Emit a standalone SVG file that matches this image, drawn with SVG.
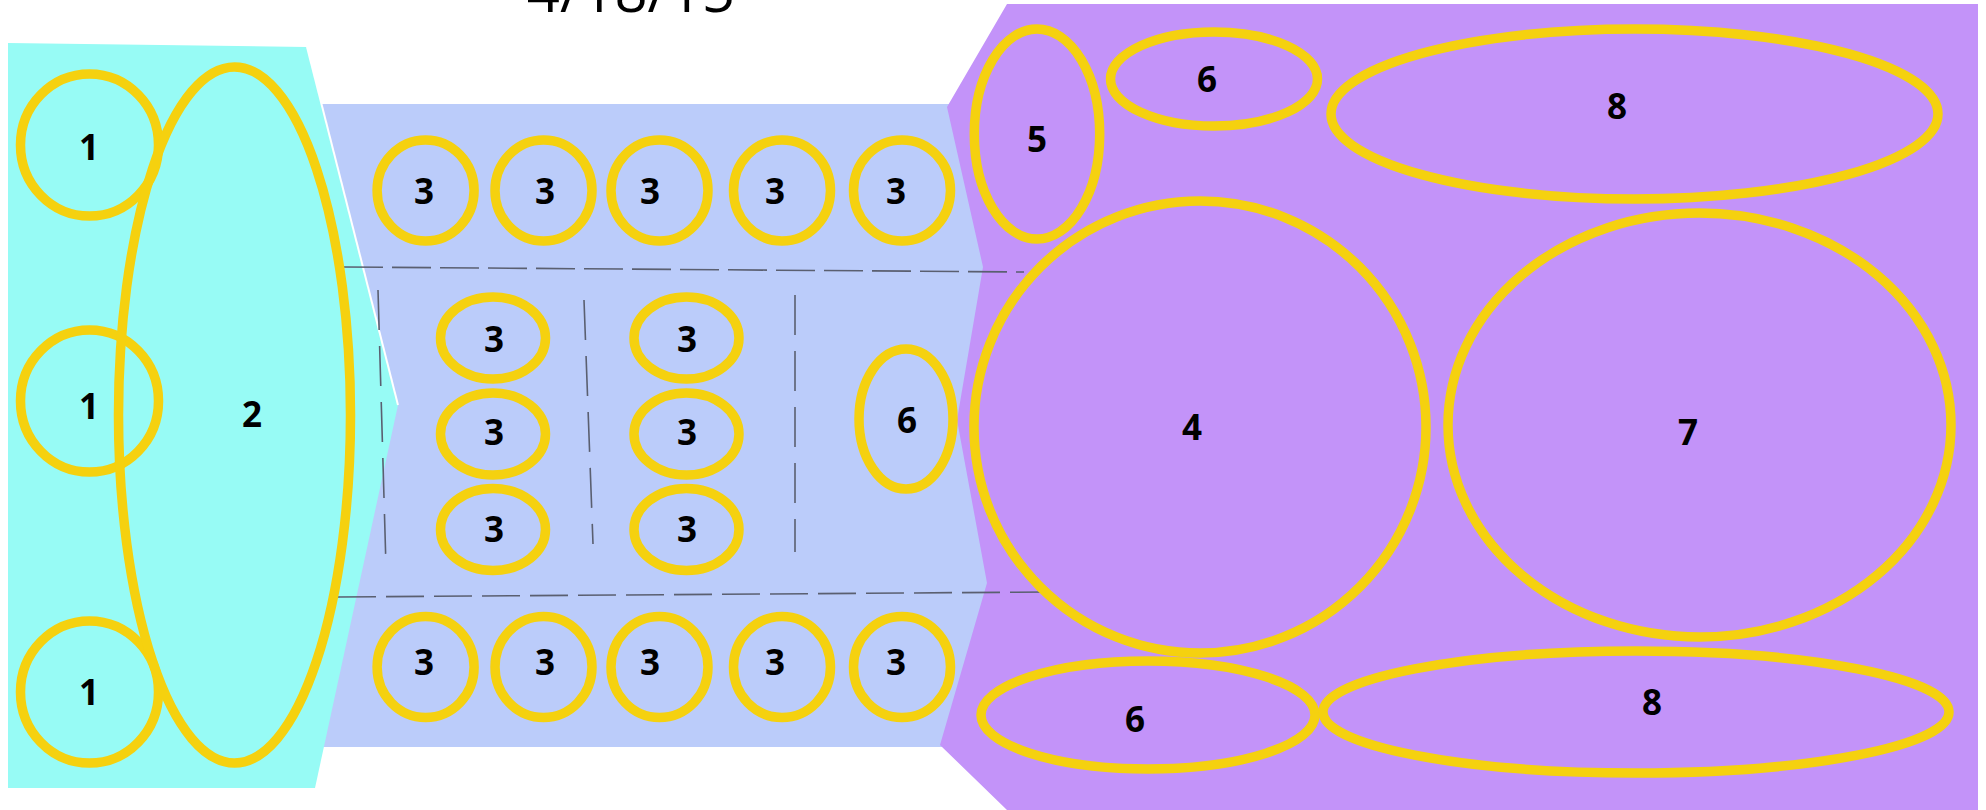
<svg xmlns="http://www.w3.org/2000/svg" width="1986" height="810" viewBox="0 0 1986 810">
<style>
.n{fill:none;stroke:#F5D10F;stroke-width:9.5}
.t{font-family:"Open Sans","Liberation Sans",sans-serif;font-weight:700;font-size:35px;fill:#000;text-anchor:middle}
.d{fill:none;stroke:#5a5f70;stroke-width:1.6}
</style>
<rect width="1986" height="810" fill="#fff"/>
<g id="regions">
<polygon points="322,104 995,104 995,747 322,747" fill="#BBCCFA"/>
<polygon points="1007,4 1978,4 1978,810 1007,810 940,745 987,583 957,420 983,267 947,107" fill="#C393F9"/>
<polygon points="8,43 307,47 398,405 315,788 8,788" fill="#97FBF5"/>
<line x1="307" y1="47" x2="398" y2="405" stroke="#fff" stroke-width="2"/>
</g>
<text x="631" y="12" font-family="'Open Sans','Liberation Sans',sans-serif" font-size="58" text-anchor="middle" fill="#000">4/18/15</text>
<g id="connectors">
<line class="d" x1="344" y1="267" x2="1024" y2="272" stroke-dasharray="39 9"/>
<line class="d" x1="338" y1="597" x2="1047" y2="592" stroke-dasharray="38 10"/>
<line class="d" x1="378" y1="290" x2="386" y2="567" stroke-dasharray="40 16"/>
<line class="d" x1="584" y1="300" x2="593" y2="544" stroke-dasharray="40 16"/>
<line class="d" x1="795" y1="295" x2="795" y2="552" stroke-dasharray="40 16"/>
</g>
<g id="n1a"><ellipse class="n" cx="89.5" cy="145" rx="69" ry="71"/><text class="t" x="89" y="160">1</text></g>
<g id="n1b"><ellipse class="n" cx="89.5" cy="401" rx="69" ry="71"/><text class="t" x="89" y="419">1</text></g>
<g id="n1c"><ellipse class="n" cx="89.5" cy="692" rx="69" ry="71"/><text class="t" x="89" y="705">1</text></g>
<g id="n2"><ellipse class="n" cx="234.5" cy="415" rx="116" ry="348"/><text class="t" x="252" y="427">2</text></g>
<g id="n3t1"><ellipse class="n" cx="425.6" cy="190.5" rx="48.5" ry="50.5"/><text class="t" x="424" y="204">3</text></g>
<g id="n3t2"><ellipse class="n" cx="543.5" cy="190.5" rx="48.5" ry="50.5"/><text class="t" x="545" y="204">3</text></g>
<g id="n3t3"><ellipse class="n" cx="659.5" cy="190.5" rx="48.5" ry="50.5"/><text class="t" x="650" y="204">3</text></g>
<g id="n3t4"><ellipse class="n" cx="782" cy="190.5" rx="48.5" ry="50.5"/><text class="t" x="775" y="204">3</text></g>
<g id="n3t5"><ellipse class="n" cx="902" cy="190.5" rx="48.5" ry="50.5"/><text class="t" x="896" y="204">3</text></g>
<g id="n3b1"><ellipse class="n" cx="425.6" cy="667" rx="48.5" ry="50.5"/><text class="t" x="424" y="675">3</text></g>
<g id="n3b2"><ellipse class="n" cx="543.5" cy="667" rx="48.5" ry="50.5"/><text class="t" x="545" y="675">3</text></g>
<g id="n3b3"><ellipse class="n" cx="659.5" cy="667" rx="48.5" ry="50.5"/><text class="t" x="650" y="675">3</text></g>
<g id="n3b4"><ellipse class="n" cx="782" cy="667" rx="48.5" ry="50.5"/><text class="t" x="775" y="675">3</text></g>
<g id="n3b5"><ellipse class="n" cx="902" cy="667" rx="48.5" ry="50.5"/><text class="t" x="896" y="675">3</text></g>
<g id="n3g1"><ellipse class="n" cx="493" cy="338" rx="52.5" ry="41"/><text class="t" x="494" y="352">3</text></g>
<g id="n3g2"><ellipse class="n" cx="686.5" cy="338" rx="52.5" ry="41"/><text class="t" x="687" y="352">3</text></g>
<g id="n3g3"><ellipse class="n" cx="493" cy="434" rx="52.5" ry="41"/><text class="t" x="494" y="445">3</text></g>
<g id="n3g4"><ellipse class="n" cx="686.5" cy="434" rx="52.5" ry="41"/><text class="t" x="687" y="445">3</text></g>
<g id="n3g5"><ellipse class="n" cx="493" cy="529.5" rx="52.5" ry="41"/><text class="t" x="494" y="542">3</text></g>
<g id="n3g6"><ellipse class="n" cx="686.5" cy="529.5" rx="52.5" ry="41"/><text class="t" x="687" y="542">3</text></g>
<g id="n6a"><ellipse class="n" cx="906" cy="419" rx="47" ry="70"/><text class="t" x="907" y="433">6</text></g>
<g id="n5"><ellipse class="n" cx="1037" cy="134" rx="62.7" ry="105"/><text class="t" x="1037" y="152">5</text></g>
<g id="n6b"><ellipse class="n" cx="1214" cy="79" rx="103.5" ry="47"/><text class="t" x="1207" y="92">6</text></g>
<g id="n8a"><ellipse class="n" cx="1634.5" cy="114" rx="303.5" ry="85"/><text class="t" x="1617" y="119">8</text></g>
<g id="n4"><ellipse class="n" cx="1200" cy="427" rx="226" ry="226"/><text class="t" x="1192" y="440">4</text></g>
<g id="n7"><ellipse class="n" cx="1699.5" cy="425" rx="251.5" ry="212"/><text class="t" x="1688" y="445">7</text></g>
<g id="n6c"><ellipse class="n" cx="1148" cy="715" rx="167" ry="54"/><text class="t" x="1135" y="732">6</text></g>
<g id="n8b"><ellipse class="n" cx="1636" cy="712" rx="313" ry="61"/><text class="t" x="1652" y="715">8</text></g>
</svg>
